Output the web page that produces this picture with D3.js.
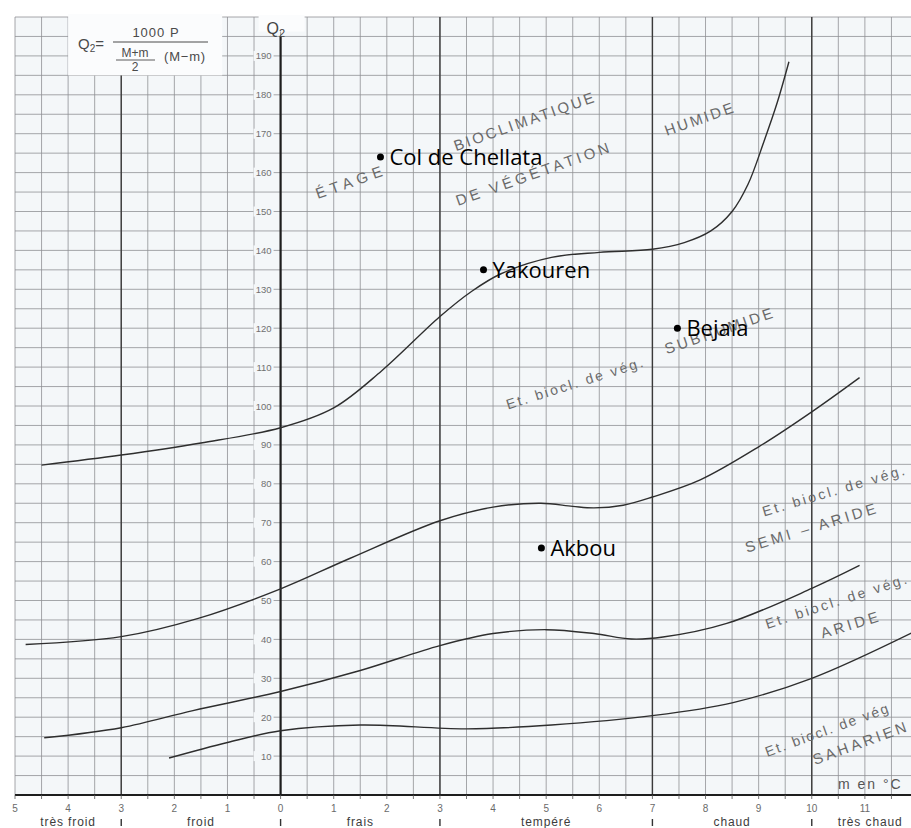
<!DOCTYPE html>
<html>
<head>
<meta charset="utf-8">
<script src="https://cdn.jsdelivr.net/npm/d3@7"></script>
<style>
  html, body { margin: 0; padding: 0; background: #fff; }
  svg { display: block; }
</style>
</head>
<body>
<svg id="chart" width="911" height="828"></svg>
<script>
// Climagramme d'Emberger : quotient pluviothermique Q2 en fonction de m (°C)

// Axe des températures m (°C) : graduations et libellés (sans signe moins à gauche de 0)
const mTicks = [-5, -4, -3, -2, -1, 0, 1, 2, 3, 4, 5, 6, 7, 8, 9, 10, 11, 12];
const mTickLabels = ["5", "4", "3", "2", "1", "0", "1", "2", "3", "4", "5", "6", "7", "8", "9", "10", "11", "12"];

// Axe Q2
const qTicks = [10, 20, 30, 40, 50, 60, 70, 80, 90, 100, 110, 120, 130, 140, 150, 160, 170, 180, 190];

// Limites des variantes thermiques (traits forts) et leurs noms
const thermalBounds = [-3, 0, 3, 7, 10];
const thermalNames = ["très froid", "froid", "frais", "tempéré", "chaud", "très chaud"];
const thermalCentres = [-4, -1.5, 1.5, 5, 8.5, 11.1];

// Limites entre étages bioclimatiques : [m, Q2]
const limitHumide = [
  [-4.5, 84.8], [-3, 87.4], [-1.5, 90.5], [0, 94.4], [1, 99.5], [1.9, 109],
  [3, 123], [3.6, 129.5], [4.15, 134], [5.1, 138.2], [6, 139.5], [7, 140.3], [7.6, 142],
  [8.1, 145], [8.5, 150], [8.8, 157], [9.1, 168], [9.35, 178], [9.57, 188.5]
];
const limitSubhumide = [
  [-4.8, 38.7], [-3, 40.7], [-1.55, 45.4], [0, 53], [1.3, 60.8], [3, 70.5], [4, 74],
  [4.9, 75], [5.5, 74.2], [5.9, 73.8], [6.45, 74.5], [7, 76.6], [7.9, 81], [9, 89.5],
  [10, 98.5], [10.9, 107.3]
];
const limitSemiAride = [
  [-4.45, 14.7], [-3, 17.3], [-1.65, 21.7], [0, 26.6], [1.5, 32], [3, 38.4], [4, 41.5],
  [5, 42.5], [5.9, 41.5], [6.6, 40.1], [7.2, 40.6], [8.4, 44.1], [10, 53.1], [10.9, 59]
];
const limitAride = [
  [-2.1, 9.5], [-1, 13.5], [0, 16.5], [1.5, 18], [3.5, 17], [5.1, 18], [7, 20.4],
  [8.5, 23.7], [10, 30], [11.9, 41.8]
];

// Stations
const stationNames = ["Col de Chellata", "Yakouren", "Bejaia", "Akbou"];
const stationM = [1.88, 3.82, 7.47, 4.91];
const stationQ = [164, 135, 120, 63.5];

const svg = d3.select("#chart");
const W = 911;

const x = d3.scaleLinear().domain([-5, 12]).range([15, 918]);
const y = d3.scaleLinear().domain([0, 200]).range([795, 17]);

// Fond du papier millimétré
svg.append("rect")
  .attr("x", x(-5)).attr("y", y(200))
  .attr("width", W - x(-5)).attr("height", y(0) - y(200))
  .attr("fill", "#f4f7f9");

const grid = svg.append("g").attr("stroke", "#8f9194").attr("stroke-width", 0.8);
d3.range(-5, 12.01, 0.5).forEach(m => {
  if (x(m) > W) return;
  grid.append("line")
    .attr("x1", x(m)).attr("x2", x(m))
    .attr("y1", y(200)).attr("y2", y(0));
});
d3.range(5, 200.01, 5).forEach(q => {
  grid.append("line")
    .attr("x1", x(-5)).attr("x2", W)
    .attr("y1", y(q)).attr("y2", y(q));
});

// Traits forts des variantes thermiques
svg.append("g").selectAll("line").data(thermalBounds.filter(b => b !== 0)).join("line")
  .attr("x1", d => x(d)).attr("x2", d => x(d))
  .attr("y1", y(200)).attr("y2", y(0))
  .attr("stroke", "#3a3a3a").attr("stroke-width", 1.4);

// Cartouche de la formule
svg.append("rect")
  .attr("x", x(-4)).attr("y", y(200) - 3)
  .attr("width", x(-1.1) - x(-4)).attr("height", y(185) - y(200) + 3)
  .attr("fill", "#fbfcfd");

const fg = svg.append("g").attr("fill", "#4a4a4a")
  .attr("font-family", "'Liberation Sans', Arial, sans-serif");
fg.append("text").attr("x", 78).attr("y", 49).attr("font-size", 15)
  .html('Q<tspan font-size="10" dy="3">2</tspan><tspan dy="-3">=</tspan>');
fg.append("text").attr("x", 156).attr("y", 37).attr("font-size", 13)
  .attr("text-anchor", "middle").attr("letter-spacing", 1).text("1000 P");
fg.append("line").attr("x1", 113).attr("x2", 208).attr("y1", 42).attr("y2", 42)
  .attr("stroke", "#4a4a4a").attr("stroke-width", 1);
fg.append("text").attr("x", 135).attr("y", 57).attr("font-size", 12)
  .attr("text-anchor", "middle").text("M+m");
fg.append("line").attr("x1", 116).attr("x2", 155).attr("y1", 60).attr("y2", 60)
  .attr("stroke", "#4a4a4a").attr("stroke-width", 0.9);
fg.append("text").attr("x", 135).attr("y", 71).attr("font-size", 12)
  .attr("text-anchor", "middle").text("2");
fg.append("text").attr("x", 185).attr("y", 61).attr("font-size", 13)
  .attr("text-anchor", "middle").attr("letter-spacing", 0.8).text("(M−m)");

// Axe Q2
svg.append("rect").attr("x", x(0) - 22).attr("y", y(200) - 2)
  .attr("width", 46).attr("height", y(196) - y(200) + 1).attr("fill", "#fbfcfd");
svg.append("line")
  .attr("x1", x(0)).attr("x2", x(0)).attr("y1", y(195)).attr("y2", y(0))
  .attr("stroke", "#1e1e1e").attr("stroke-width", 2.2);
svg.append("text").attr("x", x(0) - 14).attr("y", 34)
  .attr("font-family", "'Liberation Sans', Arial, sans-serif")
  .attr("font-size", 16).attr("fill", "#444")
  .html('Q<tspan font-size="11" dy="3">2</tspan>');

const yl = svg.append("g").attr("font-family", "'Liberation Sans', Arial, sans-serif")
  .attr("font-size", 9.5).attr("fill", "#707070");
qTicks.forEach(q => {
  yl.append("rect").attr("x", x(0) - 27).attr("y", y(q) - 5)
    .attr("width", 20).attr("height", 10).attr("fill", "#f4f7f9");
  yl.append("text").attr("x", x(0) - 9).attr("y", y(q) + 3.5)
    .attr("text-anchor", "end").text(q);
});

// Axe m
svg.append("line").attr("x1", x(-5)).attr("x2", W).attr("y1", y(0)).attr("y2", y(0))
  .attr("stroke", "#1e1e1e").attr("stroke-width", 1.8);
svg.append("g").selectAll("line").data(d3.range(-5, 12.01, 0.5)).join("line")
  .attr("x1", d => x(d)).attr("x2", d => x(d))
  .attr("y1", y(0)).attr("y2", y(0) + 4)
  .attr("stroke", "#555").attr("stroke-width", 0.8);
svg.append("g").attr("font-family", "'Liberation Sans', Arial, sans-serif")
  .attr("font-size", 10).attr("fill", "#6a6a6a")
  .selectAll("text").data(mTicks).join("text")
  .attr("x", d => x(d)).attr("y", 812).attr("text-anchor", "middle")
  .text((d, i) => mTickLabels[i]);
svg.append("g").attr("font-family", "'Liberation Sans', Arial, sans-serif")
  .attr("font-size", 12).attr("fill", "#3c3c3c").attr("letter-spacing", 0.9)
  .selectAll("text").data(thermalNames).join("text")
  .attr("x", (d, i) => x(thermalCentres[i])).attr("y", 826).attr("text-anchor", "middle")
  .text(d => d);
svg.append("g").selectAll("line").data(thermalBounds).join("line")
  .attr("x1", d => x(d)).attr("x2", d => x(d))
  .attr("y1", 819).attr("y2", 826)
  .attr("stroke", "#333").attr("stroke-width", 1.4);

// Courbes limites
const line = d3.line().x(d => x(d[0])).y(d => y(d[1])).curve(d3.curveCatmullRom.alpha(0.5));
[limitHumide, limitSubhumide, limitSemiAride, limitAride].forEach(c => {
  svg.append("path").attr("d", line(c))
    .attr("fill", "none").attr("stroke", "#2e2e2e").attr("stroke-width", 1.4);
});

// Noms des étages (texte incliné)
const zoneLabels = [
  { t: "ÉTAGE", m: 0.70, q: 153.2, a: -19.5, s: 15, ls: 5 },
  { t: "BIOCLIMATIQUE", m: 3.30, q: 165.5, a: -19.5, s: 15, ls: 2.6 },
  { t: "DE VÉGÉTATION", m: 3.34, q: 151.4, a: -19.5, s: 15, ls: 3.5 },
  { t: "HUMIDE", m: 7.27, q: 169.4, a: -19.5, s: 15, ls: 2.5 },
  { t: "Et. biocl. de vég.", m: 4.28, q: 99.1, a: -17.5, s: 14, ls: 2.3 },
  { t: "SUBHUMIDE", m: 7.27, q: 113.3, a: -19, s: 15, ls: 2.9 },
  { t: "Et. biocl. de vég.", m: 9.10, q: 71.6, a: -16.5, s: 14, ls: 2.6 },
  { t: "SEMI – ARIDE", m: 8.78, q: 62.3, a: -17, s: 15, ls: 3.4 },
  { t: "Et. biocl. de vég.", m: 9.16, q: 42.7, a: -18, s: 14, ls: 2.6 },
  { t: "ARIDE", m: 10.2, q: 40.2, a: -17, s: 15, ls: 3.4 },
  { t: "Et. biocl. de vég", m: 9.16, q: 9.8, a: -20, s: 14, ls: 1.9 },
  { t: "SAHARIEN", m: 10.06, q: 7.7, a: -20, s: 15, ls: 3.1 }
];
svg.append("g").attr("font-family", "'Liberation Sans', Arial, sans-serif")
  .attr("fill", "#6a6a6a")
  .selectAll("text").data(zoneLabels).join("text")
  .attr("transform", d => `translate(${x(d.m)},${y(d.q)}) rotate(${d.a})`)
  .attr("font-size", d => d.s).attr("letter-spacing", d => d.ls)
  .text(d => d.t);

svg.append("text").attr("x", 838).attr("y", 789)
  .attr("font-family", "'Liberation Sans', Arial, sans-serif")
  .attr("font-size", 14).attr("fill", "#555").attr("letter-spacing", 2)
  .text("m en °C");

// Stations
const st = svg.append("g");
stationNames.forEach((n, i) => {
  const cx = x(stationM[i]), cy = y(stationQ[i]);
  st.append("circle").attr("cx", cx).attr("cy", cy).attr("r", 3.5).attr("fill", "#000");
  st.append("text").attr("x", cx + 9).attr("y", cy + 8)
    .attr("font-family", "'Open Sans', 'Noto Sans', sans-serif")
    .attr("font-size", 22).attr("fill", "#000")
    .text(n);
});
</script>
</body>
</html>
